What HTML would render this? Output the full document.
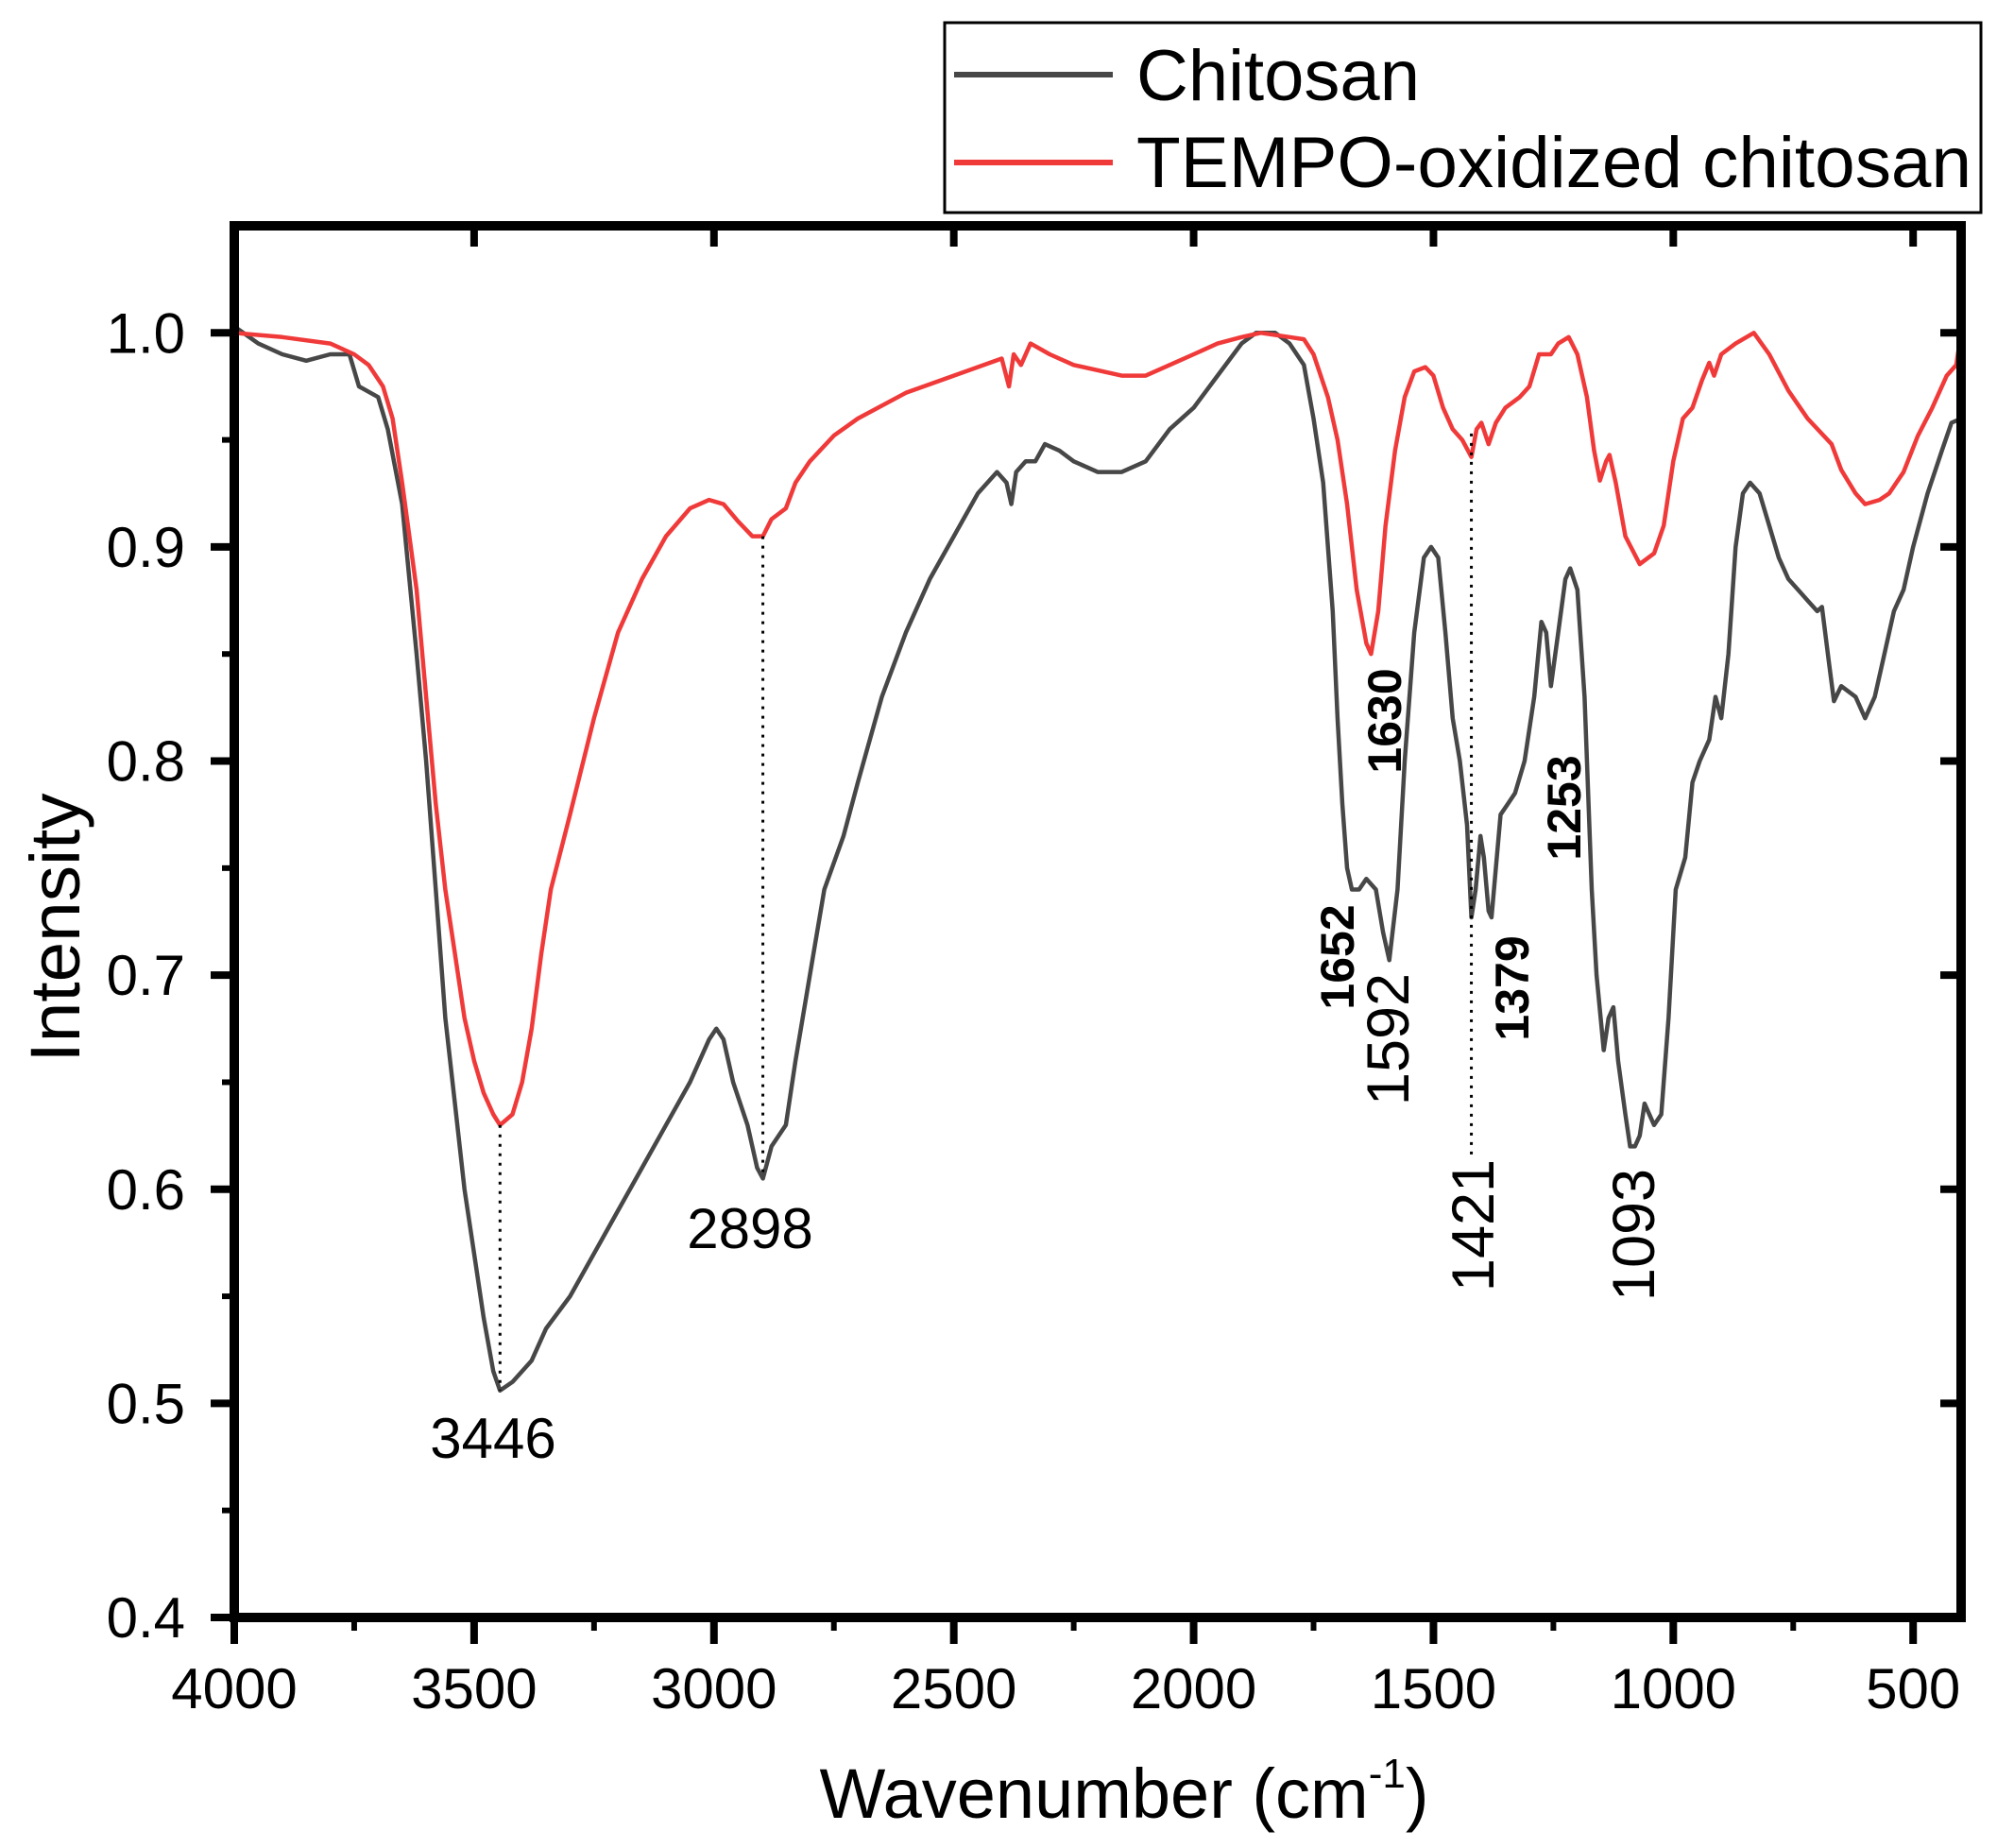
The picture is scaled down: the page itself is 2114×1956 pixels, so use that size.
<!DOCTYPE html>
<html><head><meta charset="utf-8"><style>
html,body{margin:0;padding:0;background:#fff;}
svg{display:block;font-family:"Liberation Sans",Arial,sans-serif;}
</style></head><body>
<svg id="chart" width="2114" height="1956" viewBox="0 0 2114 1956" xmlns="http://www.w3.org/2000/svg">
<g id="plot"></g>
</svg>
<script>
const xTicks=[4000,3500,3000,2500,2000,1500,1000,500];
const yTicks=[0.4,0.5,0.6,0.7,0.8,0.9,1.0];
const yTickLabels=["0.4","0.5","0.6","0.7","0.8","0.9","1.0"];
const chitosanWn=[4000,3950,3900,3850,3800,3760,3740,3700,3680,3650,3620,3600,3580,3560,3540,3520,3500,3480,3460,3446,3420,3380,3350,3300,3250,3200,3150,3100,3050,3010,2995,2980,2960,2930,2910,2898,2880,2850,2830,2800,2770,2730,2700,2650,2600,2550,2500,2450,2410,2390,2380,2370,2350,2330,2310,2280,2250,2200,2150,2100,2050,2000,1950,1900,1870,1830,1800,1770,1750,1730,1710,1700,1690,1680,1670,1655,1640,1620,1605,1592,1575,1560,1540,1520,1505,1490,1475,1460,1445,1430,1421,1412,1402,1395,1385,1379,1370,1360,1345,1330,1310,1290,1275,1265,1255,1240,1225,1215,1200,1185,1170,1160,1145,1135,1125,1115,1100,1090,1080,1070,1060,1040,1025,1010,995,975,960,945,925,912,900,885,870,855,840,820,800,780,760,740,720,700,690,675,665,650,620,600,580,560,540,520,500,470,440,420,400];
const chitosanI=[1.003,0.995,0.99,0.987,0.99,0.99,0.975,0.97,0.955,0.92,0.85,0.80,0.74,0.68,0.64,0.60,0.57,0.54,0.515,0.506,0.51,0.52,0.535,0.55,0.57,0.59,0.61,0.63,0.65,0.67,0.675,0.67,0.65,0.63,0.61,0.605,0.62,0.63,0.66,0.70,0.74,0.765,0.79,0.83,0.86,0.885,0.905,0.925,0.935,0.93,0.92,0.935,0.94,0.94,0.948,0.945,0.94,0.935,0.935,0.94,0.955,0.965,0.98,0.995,1.0,1.0,0.995,0.985,0.96,0.93,0.87,0.82,0.78,0.75,0.74,0.74,0.745,0.74,0.72,0.707,0.74,0.80,0.86,0.895,0.9,0.895,0.86,0.82,0.80,0.77,0.727,0.74,0.765,0.755,0.73,0.727,0.75,0.775,0.78,0.785,0.80,0.83,0.865,0.86,0.835,0.86,0.885,0.89,0.88,0.83,0.74,0.70,0.665,0.68,0.685,0.66,0.635,0.62,0.62,0.625,0.64,0.63,0.635,0.68,0.74,0.755,0.79,0.80,0.81,0.83,0.82,0.85,0.9,0.925,0.93,0.925,0.91,0.895,0.885,0.88,0.875,0.87,0.872,0.845,0.828,0.835,0.83,0.82,0.83,0.85,0.87,0.88,0.90,0.925,0.945,0.958,0.96];
const tempoWn=[4000,3900,3800,3750,3720,3690,3670,3650,3620,3600,3580,3560,3540,3520,3500,3480,3460,3446,3420,3400,3380,3360,3340,3300,3250,3200,3150,3100,3050,3010,2980,2950,2920,2898,2880,2850,2830,2800,2750,2700,2600,2500,2400,2385,2375,2360,2340,2300,2250,2150,2100,2050,2000,1950,1900,1860,1800,1770,1750,1720,1700,1680,1660,1640,1630,1615,1600,1580,1560,1540,1517,1500,1480,1460,1440,1421,1410,1400,1385,1370,1350,1320,1300,1280,1270,1255,1240,1218,1200,1180,1165,1153,1140,1133,1120,1100,1070,1040,1020,1000,980,960,940,925,915,900,870,832,800,760,720,670,650,620,600,570,550,520,490,460,430,410,400];
const tempoI=[1.0,0.998,0.995,0.99,0.985,0.975,0.96,0.93,0.88,0.83,0.78,0.74,0.71,0.68,0.66,0.645,0.635,0.63,0.635,0.65,0.675,0.71,0.74,0.775,0.82,0.86,0.885,0.905,0.918,0.922,0.92,0.912,0.905,0.905,0.913,0.918,0.93,0.94,0.952,0.96,0.972,0.98,0.988,0.975,0.99,0.985,0.995,0.99,0.985,0.98,0.98,0.985,0.99,0.995,0.998,1.0,0.998,0.997,0.99,0.97,0.95,0.92,0.88,0.855,0.85,0.87,0.91,0.945,0.97,0.982,0.984,0.98,0.965,0.955,0.95,0.942,0.955,0.958,0.948,0.958,0.965,0.97,0.975,0.99,0.99,0.99,0.995,0.998,0.99,0.97,0.945,0.931,0.94,0.943,0.93,0.905,0.892,0.897,0.91,0.94,0.96,0.965,0.978,0.986,0.98,0.99,0.995,1.0,0.99,0.973,0.96,0.948,0.936,0.925,0.92,0.922,0.925,0.935,0.952,0.965,0.98,0.985,1.0];
const dropWn=[3446,2898,1421];
const dropTop=[0.63,0.905,0.953];
const dropBottom=[0.506,0.605,0.614];

const NS="http://www.w3.org/2000/svg";
const X0=248,X1=2076,Y0=239,Y1=1712;
const xMin=4000,xMax=400,yMin=0.4,yMax=1.05;
const sx=w=>X0+(xMin-w)/(xMin-xMax)*(X1-X0);
const sy=v=>Y1-(v-yMin)/(yMax-yMin)*(Y1-Y0);
const g=document.getElementById('plot');
function mk(tag,attrs,parent){const e=document.createElementNS(NS,tag);for(const k in attrs)e.setAttribute(k,attrs[k]);(parent||g).appendChild(e);return e;}

function series(wn,iv,color,name){
  let d='';wn.forEach((w,i)=>{d+=(i?'L':'M')+sx(w).toFixed(1)+' '+sy(iv[i]).toFixed(1);});
  const p=mk('path',{d:d,fill:'none',stroke:color,'stroke-width':4.5,'stroke-linejoin':'round'});
  
  
}
series(chitosanWn,chitosanI,'#474747','chitosan-line');
series(tempoWn,tempoI,'#f03a3a','tempo-oxidized-line');

dropWn.forEach((w,i)=>{
  const l=mk('line',{x1:sx(w),x2:sx(w),y1:sy(dropTop[i]),y2:sy(dropBottom[i]),stroke:'#000','stroke-width':3,'stroke-dasharray':'3 7'});
  
  
});

yTicks.forEach((v,i)=>{
  const y=sy(v);
  mk('line',{x1:X0-25,x2:X0,y1:y,y2:y,stroke:'#000','stroke-width':8});
  mk('line',{x1:X1,x2:X1-22,y1:y,y2:y,stroke:'#000','stroke-width':8});
  const t=mk('text',{x:X0-52,y:y+21,'text-anchor':'end','font-size':60,fill:'#000'});
  t.textContent=yTickLabels[i];
  
  
  if(v<1.0){const ym=sy(v+0.05);mk('line',{x1:X0-13,x2:X0,y1:ym,y2:ym,stroke:'#000','stroke-width':6});}
});
xTicks.forEach(w=>{
  const x=sx(w);
  mk('line',{x1:x,x2:x,y1:Y1,y2:Y1+28,stroke:'#000','stroke-width':8});
  mk('line',{x1:x,x2:x,y1:Y0,y2:Y0+22,stroke:'#000','stroke-width':8});
  const t=mk('text',{x:x,y:1808,'text-anchor':'middle','font-size':60,fill:'#000'});
  t.textContent=String(w);
  
  
  if(w>500){const xm=sx(w-250);mk('line',{x1:xm,x2:xm,y1:Y1,y2:Y1+14,stroke:'#000','stroke-width':6});}
});
const fr=mk('rect',{x:X0,y:Y0,width:X1-X0,height:Y1-Y0,fill:'none',stroke:'#000','stroke-width':10});


</script>
<script>
(function(){
const svg=document.getElementById('chart');
function add(html){svg.insertAdjacentHTML('beforeend',html);}
add('<text x="1190" y="1924" text-anchor="middle" font-size="74" fill="#000">Wavenumber (cm<tspan font-size="44" dy="-32">-1</tspan><tspan dy="32">)</tspan></text>');
add('<text transform="translate(84,982) rotate(-90)" text-anchor="middle" font-size="74" textLength="285" lengthAdjust="spacingAndGlyphs" fill="#000">Intensity</text>');
add('<g><rect x="1000" y="24" width="1097" height="201" fill="#fff" stroke="#000" stroke-width="3"/>'+
 '<line x1="1010" x2="1178" y1="79" y2="79" stroke="#474747" stroke-width="6"/>'+
 '<text x="1203" y="106" font-size="76" fill="#000">Chitosan</text>'+
 '<line x1="1010" x2="1178" y1="172" y2="172" stroke="#f03a3a" stroke-width="6"/>'+
 '<text x="1203" y="198" font-size="76" textLength="884" lengthAdjust="spacingAndGlyphs" fill="#000">TEMPO-oxidized chitosan</text></g>');
add('<text x="522" y="1543" text-anchor="middle" font-size="60" fill="#000">3446</text>');
add('<text x="794" y="1321" text-anchor="middle" font-size="60" fill="#000">2898</text>');
const rot=[["1630",1466,763,50,"bold"],["1652",1416,1013,50,"bold"],["1592",1470,1100,63,"normal"],["1379",1601,1046,50,"bold"],["1253",1656,855,50,"bold"],["1421",1560,1297,63,"normal"],["1093",1730,1307,63,"normal"]];
rot.forEach(r=>add('<text transform="translate('+r[1]+','+r[2]+') rotate(-90)" text-anchor="middle" dominant-baseline="central" font-size="'+r[3]+'" font-weight="'+r[4]+'" fill="#000">'+r[0]+'</text>'));
})();
</script>
</body></html>
